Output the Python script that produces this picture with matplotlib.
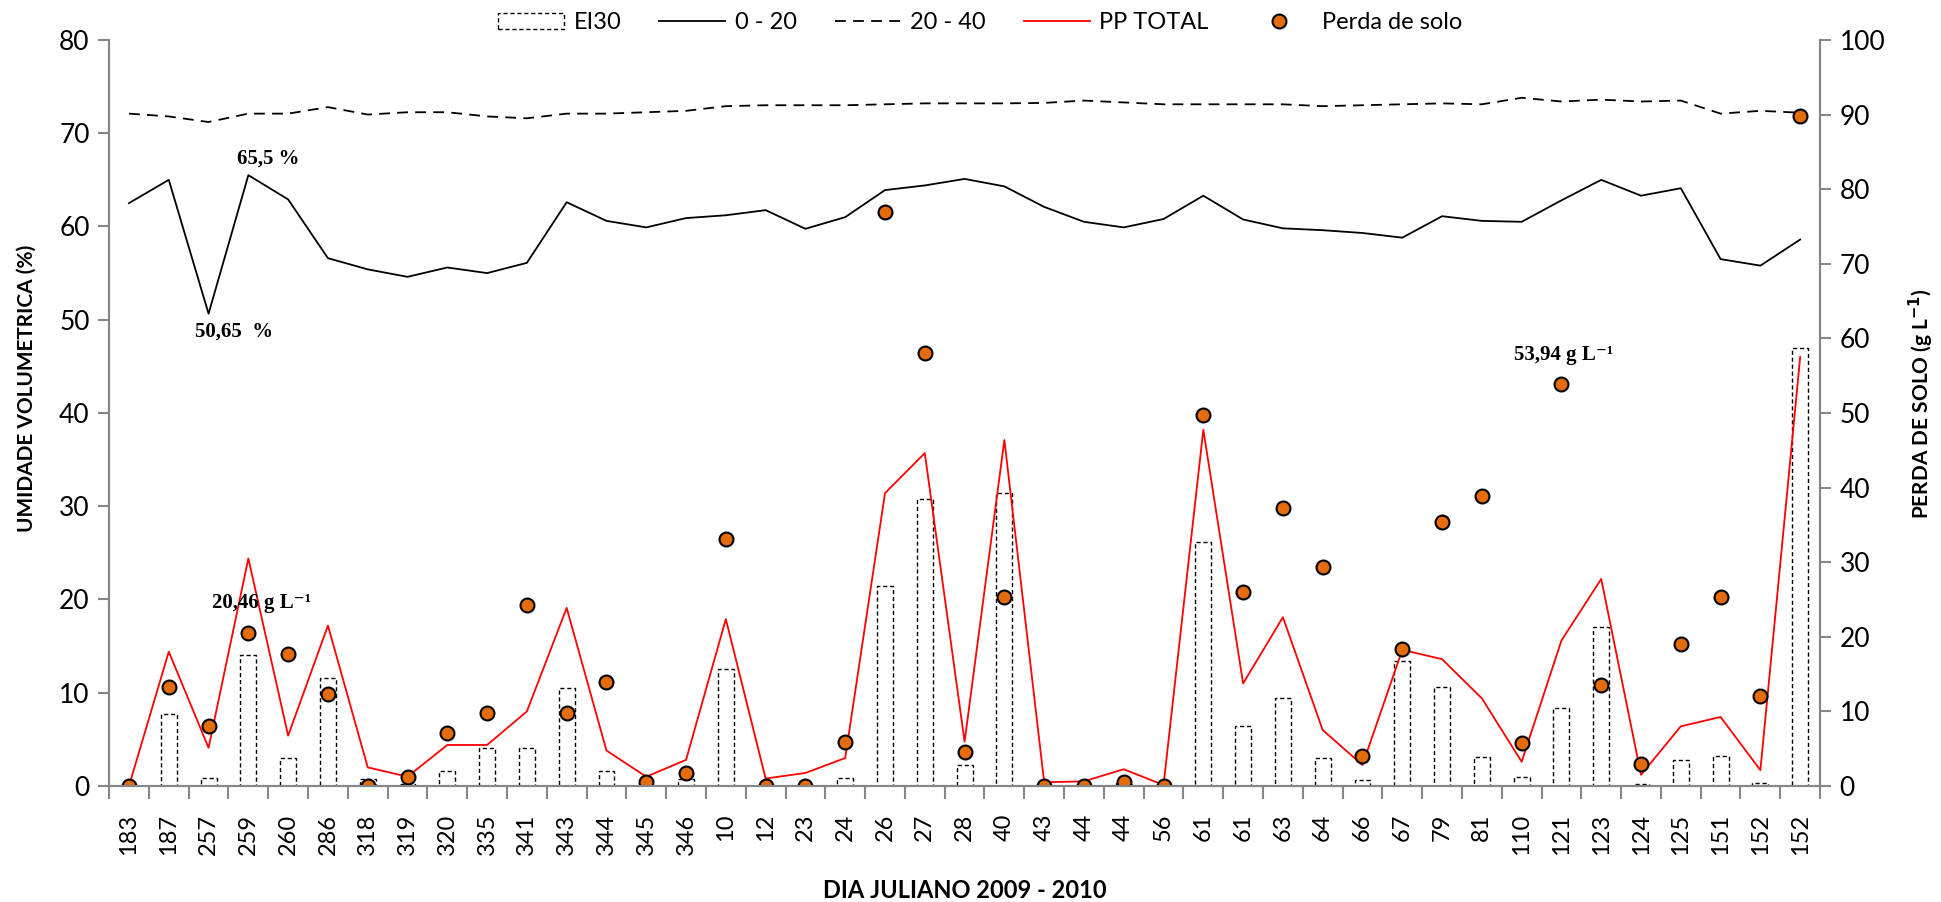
import numpy as np
import matplotlib
matplotlib.use("Agg")
import matplotlib.pyplot as plt
from matplotlib.patches import Patch
from matplotlib.lines import Line2D
from matplotlib.font_manager import FontProperties

# Data
dias = ["183", "187", "257", "259", "260", "286", "318", "319", "320", "335",
        "341", "343", "344", "345", "346", "10", "12", "23", "24", "26",
        "27", "28", "40", "43", "44", "44", "56", "61", "61", "63",
        "64", "66", "67", "79", "81", "110", "121", "123", "124", "125",
        "151", "152", "152"]

ei30 = [0, 7.7, 0.9, 14.1, 3.0, 11.6, 0.8, 0.2, 1.6, 4.1,
        4.1, 10.5, 1.6, 0, 0.7, 12.5, 0, 0, 0.9, 21.5,
        30.8, 2.2, 31.4, 0, 0, 0.3, 0, 26.2, 6.4, 9.4,
        3.0, 0.6, 13.4, 10.6, 3.1, 1.0, 8.4, 17.0, 0.25, 2.8,
        3.2, 0.3, 47.0]

umid_0_20 = [62.5, 65.0, 50.65, 65.5, 62.9, 56.6, 55.4, 54.6, 55.6, 55.0,
             56.1, 62.6, 60.6, 59.9, 60.9, 61.2, 61.75, 59.75, 61.0, 63.9,
             64.4, 65.1, 64.3, 62.1, 60.5, 59.9, 60.8, 63.3, 60.75, 59.8,
             59.6, 59.3, 58.8, 61.1, 60.6, 60.5, 62.8, 65.0, 63.3, 64.1,
             56.5, 55.8, 58.6]

umid_20_40 = [72.1, 71.8, 71.2, 72.1, 72.1, 72.8, 72.0, 72.25, 72.25, 71.8,
              71.6, 72.1, 72.1, 72.25, 72.4, 72.9, 73.0, 73.0, 73.0, 73.1,
              73.2, 73.2, 73.2, 73.25, 73.5, 73.3, 73.1, 73.1, 73.1, 73.1,
              72.9, 73.0, 73.1, 73.2, 73.1, 73.8, 73.4, 73.6, 73.4, 73.5,
              72.1, 72.4, 72.2]

pp_total = [0, 14.4, 4.1, 24.4, 5.4, 17.2, 2.0, 1.0, 4.4, 4.4,
            8.0, 19.1, 3.8, 1.0, 2.8, 17.9, 0.8, 1.4, 3.0, 31.4,
            35.7, 4.75, 37.1, 0.4, 0.5, 1.8, 0.1, 38.2, 11.0, 18.1,
            6.0, 2.25, 14.6, 13.6, 9.4, 2.6, 15.6, 22.2, 1.2, 6.4,
            7.4, 1.7, 46.0]

perda_solo = [0, 13.3, 8.0, 20.46, 17.7, 12.3, 0, 1.25, 7.1, 9.8,
              24.2, 9.8, 13.9, 0.6, 1.8, 33.1, 0, 0, 5.9, 77.0,
              58.0, 4.6, 25.4, 0, 0, 0.6, 0, 49.7, 26.0, 37.3,
              29.4, 4.0, 18.3, 35.4, 38.9, 5.7, 53.94, 13.5, 3.0, 19.0,
              25.4, 12.05, 89.8]

TICK_FONT = "Lato"
GRAY = "#868686"
ORANGE = "#E46C0A"
label_font = FontProperties(family="Lato", weight="bold", size=15)

fig = plt.figure(figsize=(19.41, 9.02), dpi=100)
ax = fig.add_axes([0.0562, 0.1286, 0.8815, 0.8271])
ax2 = ax.twinx()

x = np.arange(len(dias))

# bars and lines on the primary axis
ax.bar(x, ei30, width=0.4, facecolor="white", edgecolor="black",
       linestyle=(0, (3, 2)), linewidth=1.0, zorder=2)
ax.plot(x, umid_0_20, color="black", lw=1.3, zorder=3)
ax.plot(x, umid_20_40, color="black", lw=1.3, linestyle=(0, (6, 4)), zorder=3)
ax.plot(x, pp_total, color="#FF0000", lw=1.3, zorder=3)

# soil loss on the secondary axis
ax2.plot(x, perda_solo, linestyle="none", marker="o", markersize=10,
         markerfacecolor=ORANGE, markeredgecolor="black", markeredgewidth=1.5)

ax.set_xlim(-0.5, len(dias) - 0.5)
ax.set_ylim(0, 80)
ax2.set_ylim(0, 100)
ax.set_yticks(np.arange(0, 81, 10))
ax2.set_yticks(np.arange(0, 101, 10))

# category ticks between bars, labels at centers
ax.set_xticks(np.arange(len(dias) + 1) - 0.5)
ax.set_xticklabels([])
ax.set_xticks(x, minor=True)
ax.set_xticklabels(dias, minor=True, rotation=90, fontsize=17, family=TICK_FONT)
ax.tick_params(axis="x", which="major", length=9, width=1.5, color=GRAY, direction="out")
ax.tick_params(axis="x", which="minor", length=0, pad=20)

for a in (ax, ax2):
    a.spines["top"].set_visible(False)
    for s in ("left", "right", "bottom"):
        a.spines[s].set_color(GRAY)
        a.spines[s].set_linewidth(1.5)
    a.tick_params(axis="y", length=8, width=1.5, color=GRAY, labelsize=19, pad=6)
    for lab in a.get_yticklabels():
        lab.set_family(TICK_FONT)

ax.set_ylabel("UMIDADE VOLUMETRICA (%)", fontproperties=label_font, va="center")
ax.yaxis.set_label_coords(-0.048, 0.5335)
ax2.set_ylabel(r"PERDA DE SOLO (g L$^{\mathbf{-1}}$)", fontproperties=label_font,
               rotation=90, va="center")
ax2.yaxis.set_label_coords(1.059, 0.513)
ax.set_xlabel("DIA JULIANO 2009 - 2010", fontsize=17, fontweight="bold", family=TICK_FONT)
ax.xaxis.set_label_coords(0.5, -0.124)

# annotations
serif = ["Liberation Serif", "DejaVu Serif"]
ax.text(3.5, 67.3, "65,5 %", fontsize=15, fontweight="bold", family=serif,
        ha="center", va="center")
ax.text(2.64, 48.7, "50,65  %", fontsize=15, fontweight="bold", family=serif,
        ha="center", va="center")
ax.text(3.32, 19.6, "20,46 g L⁻¹", fontsize=15, fontweight="bold", family=serif,
        ha="center", va="center")
ax.text(36.06, 46.2, "53,94 g L⁻¹", fontsize=15, fontweight="bold", family=serif,
        ha="center", va="center")

handles = [
    Patch(facecolor="white", edgecolor="black", linestyle=(0, (3, 2)), linewidth=1.0),
    Line2D([], [], color="black", lw=1.3),
    Line2D([], [], color="black", lw=1.3, linestyle=(0, (6, 4))),
    Line2D([], [], color="#FF0000", lw=1.3),
    Line2D([], [], linestyle="none", marker="o", markersize=10,
           markerfacecolor=ORANGE, markeredgecolor="black", markeredgewidth=1.5),
]
labels = ["EI30", "0 - 20", "20 - 40", "PP TOTAL", "Perda de solo"]
fig.legend(handles, labels, loc="center", bbox_to_anchor=(0.505, 0.975), ncol=5,
           frameon=False, prop={"family": TICK_FONT, "size": 17},
           handlelength=2.8, handleheight=0.7, columnspacing=1.6, handletextpad=0.4)

fig.savefig("out.png", dpi=100)
